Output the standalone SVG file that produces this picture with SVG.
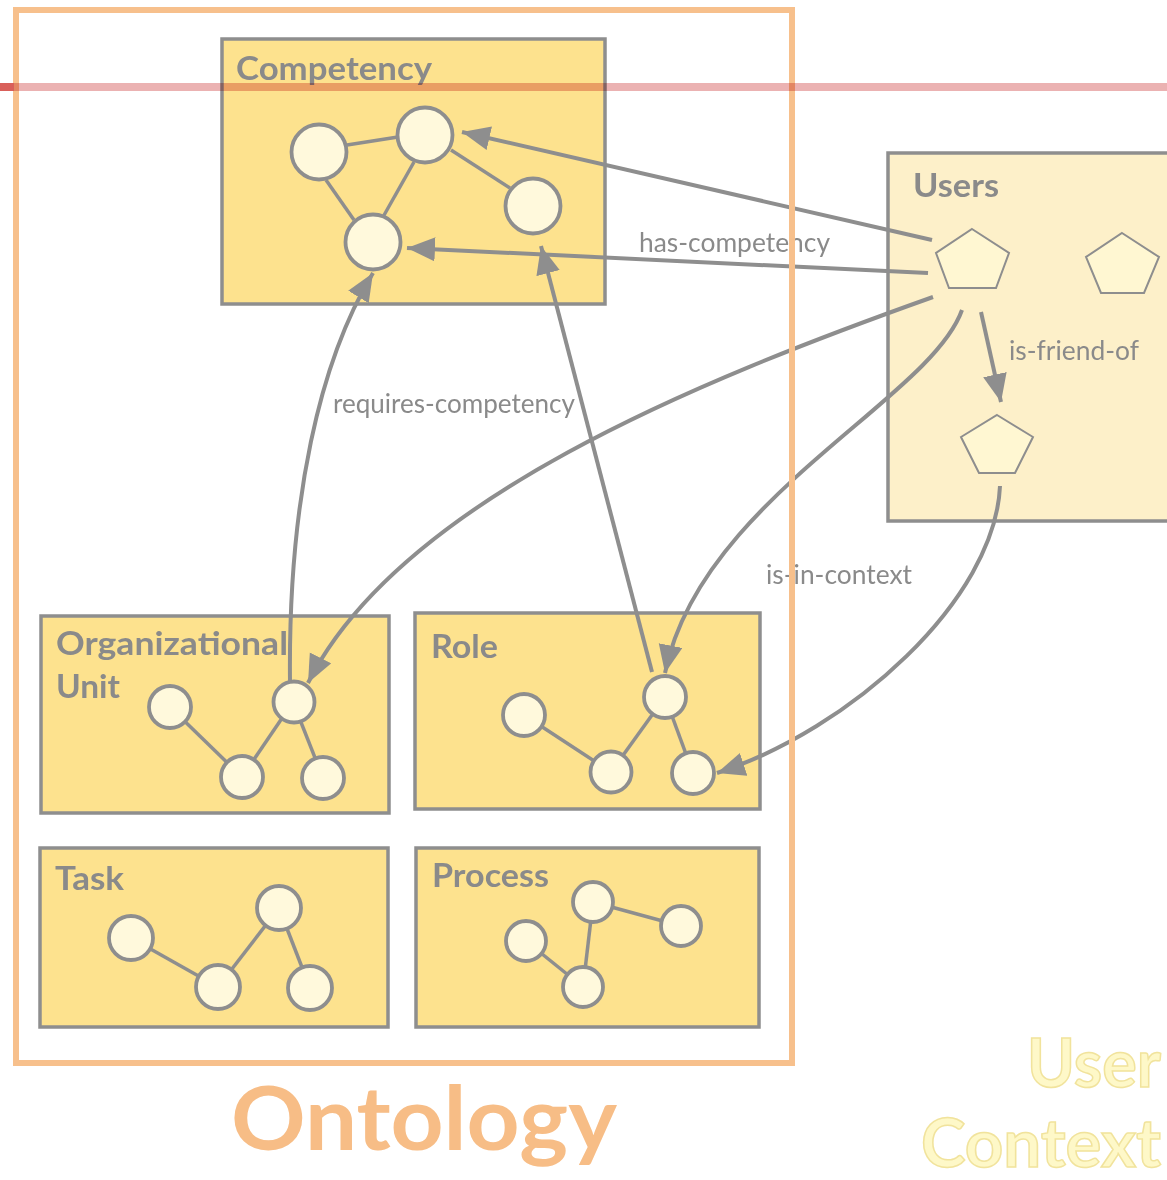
<svg xmlns="http://www.w3.org/2000/svg" width="1167" height="1180" viewBox="0 0 1167 1180">
<defs>
<style>
.box{fill:#fde28e;stroke:#8e8e8e;stroke-width:3.5}
.ubox{fill:#fdf0c9;stroke:#8e8e8e;stroke-width:3.5}
.nd{fill:#fff9dc;stroke:#8e8e8e;stroke-width:3.8}
.pg{fill:#fff7d2;stroke:#8e8e8e;stroke-width:2}
.ed{stroke:#8e8e8e;stroke-width:3.5;fill:none}
.cn{stroke:#8e8e8e;stroke-width:4;fill:none}
.ttl{font-family:Lato,"Liberation Sans",sans-serif;font-weight:bold;font-size:33px;fill:#8a8a8a}
.lbl{font-family:Lato,"Liberation Sans",sans-serif;font-size:27px;fill:#8a8a8a}
</style>
<marker id="arr" markerWidth="30" markerHeight="26" refX="28" refY="12" orient="auto" markerUnits="userSpaceOnUse">
<path d="M0,0 L28,12 L0,24 z" fill="#8e8e8e"/>
</marker>
</defs>
<rect width="1167" height="1180" fill="#ffffff"/>

<g id="competency">
<rect class="box" x="222" y="39" width="383" height="265"/>
<text class="ttl" x="236" y="80" textLength="196" lengthAdjust="spacingAndGlyphs">Competency</text>
<line class="ed" x1="347" y1="145" x2="398" y2="137"/>
<line class="ed" x1="414" y1="162" x2="383" y2="217"/>
<line class="ed" x1="326" y1="180" x2="354" y2="220"/>
<line class="ed" x1="451" y1="150" x2="510" y2="188"/>
<circle class="nd" cx="319" cy="152" r="27.5"/>
<circle class="nd" cx="425" cy="135" r="27.5"/>
<circle class="nd" cx="533" cy="206" r="27.5"/>
<circle class="nd" cx="373" cy="242" r="27.5"/>
</g>

<g id="users">
<rect class="ubox" x="888" y="153" width="290" height="368"/>
<text class="ttl" x="913" y="197" textLength="86" lengthAdjust="spacingAndGlyphs">Users</text>
<polygon class="pg" points="972,229 1009,253 996,288 949,288 936,253"/>
<polygon class="pg" points="1122,233 1159,257 1144,293 1101,293 1086,257"/>
<polygon class="pg" points="997,415 1033,437 1015,473 979,473 961,437"/>
</g>

<g id="organizational-unit">
<rect class="box" x="41" y="616" width="348" height="197"/>
<text class="ttl" x="56" y="655" textLength="232" lengthAdjust="spacingAndGlyphs">Organizational</text>
<text class="ttl" x="56" y="698" textLength="64" lengthAdjust="spacingAndGlyphs">Unit</text>
<line class="ed" x1="170" y1="707" x2="242" y2="777"/>
<line class="ed" x1="242" y1="777" x2="293" y2="702"/>
<line class="ed" x1="293" y1="702" x2="323" y2="778"/>
<circle class="nd" cx="170" cy="707" r="21"/>
<circle class="nd" cx="242" cy="777" r="21"/>
<circle class="nd" cx="294" cy="702" r="20.5"/>
<circle class="nd" cx="323" cy="778" r="21"/>
</g>

<g id="role">
<rect class="box" x="415" y="613" width="345" height="196"/>
<text class="ttl" x="431" y="658" textLength="67" lengthAdjust="spacingAndGlyphs">Role</text>
<line class="ed" x1="524" y1="715" x2="611" y2="772"/>
<line class="ed" x1="611" y1="772" x2="665" y2="697"/>
<line class="ed" x1="665" y1="697" x2="693" y2="773"/>
<circle class="nd" cx="524" cy="715" r="21"/>
<circle class="nd" cx="611" cy="772" r="20.5"/>
<circle class="nd" cx="665" cy="697" r="21"/>
<circle class="nd" cx="693" cy="773" r="21"/>
</g>

<g id="task">
<rect class="box" x="40" y="848" width="348" height="179"/>
<text class="ttl" x="55" y="890" textLength="69" lengthAdjust="spacingAndGlyphs">Task</text>
<line class="ed" x1="131" y1="938" x2="218" y2="987"/>
<line class="ed" x1="218" y1="987" x2="279" y2="908"/>
<line class="ed" x1="279" y1="908" x2="310" y2="988"/>
<circle class="nd" cx="131" cy="938" r="22"/>
<circle class="nd" cx="218" cy="987" r="22"/>
<circle class="nd" cx="279" cy="908" r="22"/>
<circle class="nd" cx="310" cy="988" r="22"/>
</g>

<g id="process">
<rect class="box" x="416" y="848" width="343" height="179"/>
<text class="ttl" x="432" y="887" textLength="117" lengthAdjust="spacingAndGlyphs">Process</text>
<line class="ed" x1="593" y1="902" x2="681" y2="926"/>
<line class="ed" x1="593" y1="902" x2="583" y2="987"/>
<line class="ed" x1="526" y1="941" x2="583" y2="987"/>
<circle class="nd" cx="593" cy="902" r="20"/>
<circle class="nd" cx="681" cy="926" r="20"/>
<circle class="nd" cx="526" cy="941" r="20"/>
<circle class="nd" cx="583" cy="987" r="20"/>
</g>

<g id="connectors">
<path class="cn" d="M932,240 L462,132" marker-end="url(#arr)"/>
<path class="cn" d="M928,273 L407,248" marker-end="url(#arr)"/>
<path class="cn" d="M290,682 C288,500 320,360 373,273" marker-end="url(#arr)"/>
<path class="cn" d="M652,672 L541,246" marker-end="url(#arr)"/>
<path class="cn" d="M933,297 C700,380 400,500 308,683" marker-end="url(#arr)"/>
<path class="cn" d="M962,310 C930,400 700,500 665,673" marker-end="url(#arr)"/>
<path class="cn" d="M1000,486 C995,600 850,730 717,773" marker-end="url(#arr)"/>
<path class="cn" d="M981,312 L1001,402" marker-end="url(#arr)"/>
<text class="lbl" x="639" y="252" textLength="191" lengthAdjust="spacingAndGlyphs">has-competency</text>
<text class="lbl" x="333" y="413" textLength="242" lengthAdjust="spacingAndGlyphs">requires-competency</text>
<text class="lbl" x="1009" y="360" textLength="130" lengthAdjust="spacingAndGlyphs">is-friend-of</text>
<text class="lbl" x="766" y="584" textLength="146" lengthAdjust="spacingAndGlyphs">is-in-context</text>
</g>

<g id="ontology">
<rect x="16" y="10" width="776" height="1053" fill="none" stroke="#f7c08c" stroke-width="6"/>
<text x="231" y="1150" font-family="Lato,'Liberation Sans',sans-serif" font-weight="bold" font-size="88" fill="#f7bd86" textLength="386" lengthAdjust="spacingAndGlyphs">Ontology</text>
</g>

<g id="user-context">
<text x="1027" y="1087" font-family="Lato,'Liberation Sans',sans-serif" font-weight="bold" font-size="66" fill="#fef8c8" stroke="#f1e39c" stroke-width="1.5" textLength="134" lengthAdjust="spacingAndGlyphs">User</text>
<text x="921" y="1167" font-family="Lato,'Liberation Sans',sans-serif" font-weight="bold" font-size="66" fill="#fef8c8" stroke="#f1e39c" stroke-width="1.5" textLength="240" lengthAdjust="spacingAndGlyphs">Context</text>
</g>

<g id="red-line">
<rect x="0" y="83" width="1167" height="8" fill="#ebb2b2" style="mix-blend-mode:multiply"/>
<rect x="0" y="83" width="14" height="8" fill="#d9605a"/>
</g>
</svg>
